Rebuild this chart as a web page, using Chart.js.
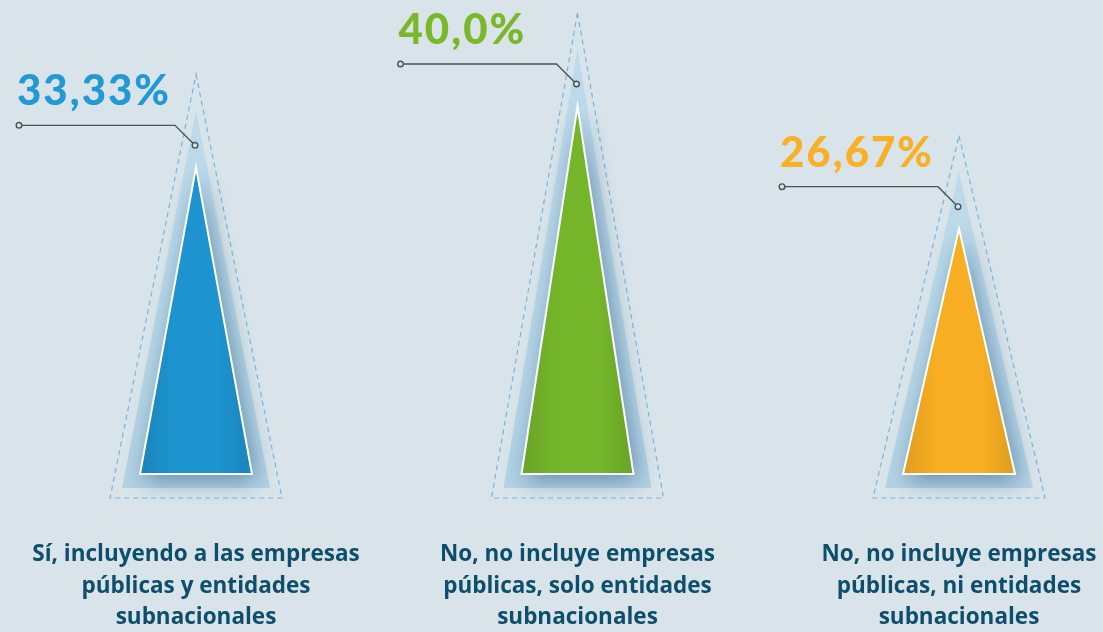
<!DOCTYPE html>
<html>
<head>
<meta charset="utf-8">
<script src="https://cdn.jsdelivr.net/npm/chart.js@4.4.0/dist/chart.umd.min.js"></script>
<style>
  html, body { margin: 0; padding: 0; background: #d9e4ea; }
  #wrap { width: 1103px; height: 632px; }
</style>
</head>
<body>
<div id="wrap"><canvas id="cones" width="1103" height="632"></canvas></div>
<script>
const categories = [
    ['Sí, incluyendo a las empresas', 'públicas y entidades', 'subnacionales'],
    ['No, no incluye empresas', 'públicas, solo entidades', 'subnacionales'],
    ['No, no incluye empresas', 'públicas, ni entidades', 'subnacionales']
];
const shares = [33.33, 40.0, 26.67];
const shareLabels = ['33,33%', '40,0%', '26,67%'];
const coneColors = ['#1d93cf', '#74b52a', '#f7ae22'];
const labelColors = ['#2299d5', '#79b829', '#f9b024'];

const BG = '#d9e4ea';

function triangle(ctx, cx, top, bottom, half) {
    ctx.beginPath();
    ctx.moveTo(cx, top);
    ctx.lineTo(cx + half, bottom);
    ctx.lineTo(cx - half, bottom);
    ctx.closePath();
}

// draws each bar as a cone with a halo, a dashed outline and a callout
const conePlugin = {
    id: 'cones',
    afterDatasetsDraw(chart) {
        const ctx = chart.ctx;
        const meta = chart.getDatasetMeta(0);
        meta.data.forEach((bar, i) => {
            const cx = bar.x, tip = bar.y, base = bar.base, half = bar.width / 2;
            ctx.save();

            // dashed outline
            triangle(ctx, cx, tip - 93, base + 24, half + 30);
            ctx.setLineDash([5, 4]);
            ctx.lineWidth = 1.2;
            ctx.strokeStyle = '#72b6df';
            ctx.stroke();
            ctx.setLineDash([]);

            // halo
            triangle(ctx, cx, tip - 57, base + 14, half + 18);
            const halo = ctx.createLinearGradient(0, tip - 57, 0, base + 14);
            halo.addColorStop(0, '#bedbeb');
            halo.addColorStop(1, '#b2d2e4');
            ctx.fillStyle = halo;
            ctx.fill();

            // cone with soft shadow
            ctx.save();
            ctx.shadowColor = 'rgba(30, 80, 120, 0.55)';
            ctx.shadowBlur = 22;
            ctx.shadowOffsetX = 4;
            ctx.shadowOffsetY = 6;
            triangle(ctx, cx, tip, base, half);
            ctx.fillStyle = coneColors[i];
            ctx.fill();
            ctx.restore();

            triangle(ctx, cx, tip, base, half);
            const shade = ctx.createLinearGradient(cx - half, 0, cx + half, 0);
            shade.addColorStop(0, 'rgba(0,0,0,0.10)');
            shade.addColorStop(0.3, 'rgba(0,0,0,0)');
            shade.addColorStop(0.7, 'rgba(0,0,0,0)');
            shade.addColorStop(1, 'rgba(0,0,0,0.10)');
            ctx.fillStyle = shade;
            ctx.fill();
            ctx.lineWidth = 2;
            ctx.strokeStyle = '#ffffff';
            ctx.stroke();

            // callout line
            const ly = tip - 42;
            ctx.beginPath();
            ctx.moveTo(cx - 177, ly);
            ctx.lineTo(cx - 21, ly);
            ctx.lineTo(cx - 2, ly + 19);
            ctx.lineWidth = 1.4;
            ctx.strokeStyle = '#4c5257';
            ctx.stroke();
            [[cx - 177, ly], [cx - 1, ly + 20]].forEach(([px, py]) => {
                ctx.beginPath();
                ctx.arc(px, py, 2.8, 0, Math.PI * 2);
                ctx.fillStyle = BG;
                ctx.fill();
                ctx.stroke();
            });

            // value
            ctx.font = '900 42px Lato';
            ctx.letterSpacing = '2px';
            ctx.fillStyle = labelColors[i];
            ctx.textAlign = 'left';
            ctx.textBaseline = 'alphabetic';
            ctx.fillText(shareLabels[i], cx - 179, ly - 20);

            ctx.restore();
        });
    }
};

const ctx = document.getElementById('cones').getContext('2d');
new Chart(ctx, {
    type: 'bar',
    data: {
        labels: categories,
        datasets: [{
            data: shares,
            backgroundColor: 'rgba(0,0,0,0)',
            barThickness: 112,
            clip: false
        }]
    },
    options: {
        responsive: false,
        animation: false,
        devicePixelRatio: 1,
        layout: { padding: { left: 196, right: 144, top: 14, bottom: 0 } },
        plugins: { legend: { display: false }, tooltip: { enabled: false } },
        scales: {
            x: {
                offset: false,
                grid: { display: false, drawTicks: false },
                border: { display: false },
                ticks: {
                    autoSkip: false,
                    maxRotation: 0,
                    padding: 65,
                    color: '#0d4e6d',
                    font: { family: 'Open Sans', size: 22.5, weight: 'bold', lineHeight: 1.4 }
                },
                afterFit(scale) {
                    // keep the label block under the cones without widening the side margins
                    scale.paddingLeft = 0;
                    scale.paddingRight = 0;
                    scale.height = 158;
                }
            },
            y: { display: false, min: 0, max: 50 }
        }
    },
    plugins: [conePlugin]
});
</script>
</body>
</html>
